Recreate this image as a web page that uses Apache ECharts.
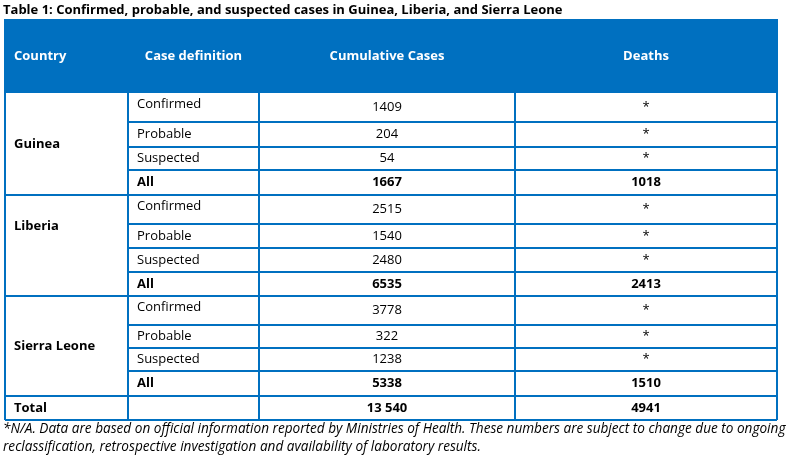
<!DOCTYPE html>
<html><head><meta charset="utf-8">
<script src="https://cdn.jsdelivr.net/npm/echarts@6/dist/echarts.min.js"></script>
<style>html,body{margin:0;background:#fff}#c{width:793px;height:458px}</style></head>
<body><div id="c"></div>
<script>
const title = 'Table 1: Confirmed, probable, and suspected cases in Guinea, Liberia, and Sierra Leone';
const headers = ['Country', 'Case definition', 'Cumulative Cases', 'Deaths'];
const countries = ['Guinea', 'Liberia', 'Sierra Leone'];
const definitions = ['Confirmed', 'Probable', 'Suspected', 'All'];
const cases = [[1409, 204, 54, 1667], [2515, 1540, 2480, 6535], [3778, 322, 1238, 5338]];
const deaths = [['*', '*', '*', 1018], ['*', '*', '*', 2413], ['*', '*', '*', 1510]];
const totalRow = ['Total', '', '13 540', '4941'];
const footnote = ['*N/A. Data are based on official information reported by Ministries of Health. These numbers are subject to change due to ongoing',
  'reclassification, retrospective investigation and availability of laboratory results.'];

const FONT = '"Liberation Sans Narrow", "Open Sans", sans-serif';
const BLUE = '#0070C0';
const colX = [5, 128, 259, 515, 777];
const headTop = 19, headBot = 93;
const blockRows = [[93, 122, 147, 170, 195], [195, 224, 248, 272, 296], [296, 325, 348, 371, 396]];
const countryY = [144, 226, 346];
const totalBot = 420;
const els = [];
function txt(x, y, s, opt) {
  els.push({type: 'text', x, y, style: Object.assign({text: String(s), fill: '#000', font: '13px ' + FONT, textVerticalAlign: 'middle', textAlign: 'left'}, opt || {})});
}
function line(x1, y1, x2, y2, w) {
  els.push({type: 'line', shape: {x1, y1, x2, y2}, style: {stroke: BLUE, lineWidth: w || 2}});
}
txt(3, 10, title, {font: 'bold 13px ' + FONT});
els.push({type: 'rect', shape: {x: colX[0], y: headTop, width: colX[4] - colX[0], height: headBot - headTop}, style: {fill: BLUE}});
const hy = (headTop + headBot) / 2;
txt(14, hy, headers[0], {fill: '#fff', font: 'bold 13px ' + FONT});
for (let i = 1; i < 4; i++) txt((colX[i] + colX[i + 1]) / 2, hy, headers[i], {fill: '#fff', font: 'bold 13px ' + FONT, textAlign: 'center'});
blockRows.forEach((r, b) => {
  txt(14, countryY[b], countries[b], {font: 'bold 13px ' + FONT});
  for (let k = 0; k < 4; k++) {
    const y = (r[k] + r[k + 1]) / 2;
    const bold = k === 3;
    const f = (bold ? 'bold ' : '') + '13px ' + FONT;
    txt(137, y - (k === 0 ? 3 : 0), definitions[k], {font: f});
    txt((colX[2] + colX[3]) / 2, y, cases[b][k], {font: f, textAlign: 'center'});
    txt((colX[3] + colX[4]) / 2, y, deaths[b][k], {font: f, textAlign: 'center'});
    if (k > 0) line(colX[1], r[k], colX[4], r[k], 2);
  }
  line(colX[0], r[4], colX[4], r[4], 2);
});
const ty = (396 + totalBot) / 2;
txt(14, ty, totalRow[0], {font: 'bold 13px ' + FONT});
txt((colX[2] + colX[3]) / 2, ty, totalRow[2], {font: 'bold 13px ' + FONT, textAlign: 'center'});
txt((colX[3] + colX[4]) / 2, ty, totalRow[3], {font: 'bold 13px ' + FONT, textAlign: 'center'});
line(colX[0], totalBot, colX[4], totalBot, 2);
colX.forEach(x => line(x, headBot, x, totalBot, 2));
line(colX[0], headTop, colX[0], headBot, 2); line(colX[4], headTop, colX[4], headBot, 2);
txt(3, 429, footnote[0], {font: 'italic 13.6px ' + FONT});
txt(3, 447, footnote[1], {font: 'italic 13.6px ' + FONT});
const chart = echarts.init(document.getElementById('c'));
chart.setOption({animation: false, graphic: {elements: els}});
</script></body></html>
